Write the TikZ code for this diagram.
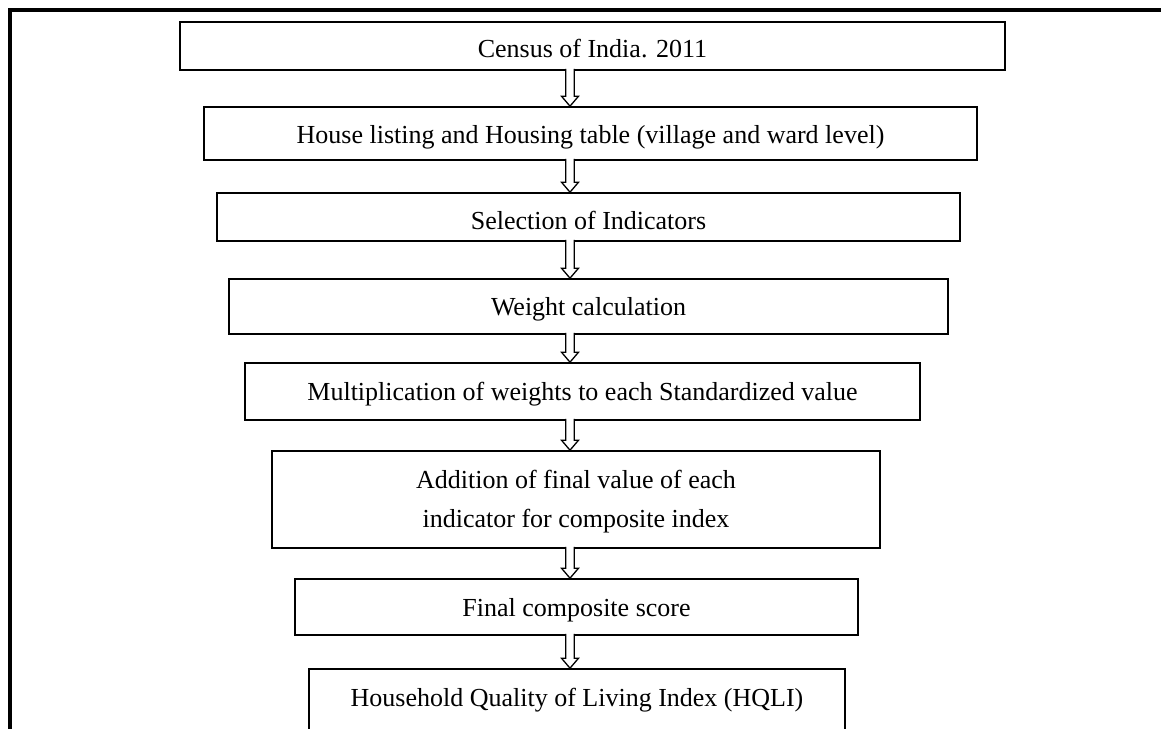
\documentclass[tikz,border=0pt]{standalone}
\usepackage{fontspec}
\setmainfont{Liberation Serif}
\usetikzlibrary{calc}
\tikzset{
  stagebox/.style={draw=black, line width=1.6pt, inner sep=0pt, fill=white},
  lbl/.style={inner sep=0pt, font=\fontsize{26}{39}\selectfont, anchor=base, align=center},
  blockarrow/.style={draw=black, line width=1.3pt, fill=white, line join=miter},
  frameline/.style={draw=black, line width=4pt}
}
\newcommand{\flowarrow}[2]{%
  \draw[blockarrow] ($(#1.south -| ax)+(-4.3,-2)$) -- ($(#2.north -| ax)+(-4.3,-10)$)
    -- ($(#2.north -| ax)+(-8.5,-10)$) -- (#2.north -| ax)
    -- ($(#2.north -| ax)+(8.5,-10)$) -- ($(#2.north -| ax)+(4.3,-10)$)
    -- ($(#1.south -| ax)+(4.3,-2)$);}
\begin{document}
\begin{tikzpicture}[x=1pt,y=-1pt]
\useasboundingbox (0,0) rectangle (1161,728);
\clip (0,0) rectangle (1161,728);
\fill[white] (0,0) rectangle (1161,728);
\coordinate (ax) at (570,0);
% outer frame (cropped)
\coordinate (fbl) at (10,760);
\coordinate (ftl) at (10,10);
\coordinate (ftr) at (1200,10);
\draw[frameline] (fbl) -- (ftl) -- (ftr);
% boxes
\node[stagebox, minimum width=825pt, minimum height=48pt] (b1) at (592.5,46) {};
\node[stagebox, minimum width=773pt, minimum height=53pt] (b2) at (590.5,133.5) {};
\node[stagebox, minimum width=743pt, minimum height=48pt] (b3) at (588.5,217) {};
\node[stagebox, minimum width=719pt, minimum height=55pt] (b4) at (588.5,306.5) {};
\node[stagebox, minimum width=675pt, minimum height=57pt] (b5) at (582.5,391.5) {};
\node[stagebox, minimum width=608pt, minimum height=97pt] (b6) at (576,499.5) {};
\node[stagebox, minimum width=563pt, minimum height=56pt] (b7) at (576.5,607) {};
\node[stagebox, minimum width=536pt, minimum height=100pt] (b8) at (577,719) {};
% texts
\node[lbl] (t1) at ($(b1.north)+(0,36)$) {Census of India. 2011};
\node[lbl] (t2) at ($(b2.north)+(0,37)$) {House listing and Housing table (village and ward level)};
\node[lbl] (t3) at ($(b3.north)+(0,37)$) {Selection of Indicators};
\node[lbl] (t4) at ($(b4.north)+(0,37.5)$) {Weight calculation};
\node[lbl] (t5) at ($(b5.north)+(0,38.5)$) {Multiplication of weights to each Standardized value};
\node[lbl] (t6) at ($(b6.north)+(0,77)$) {Addition of final value of each\\indicator for composite index};
\node[lbl] (t7) at ($(b7.north)+(0,38)$) {Final composite score};
\node[lbl] (t8) at ($(b8.north)+(0,38)$) {Household Quality of Living Index (HQLI)};
% arrows
\flowarrow{b1}{b2}
\flowarrow{b2}{b3}
\flowarrow{b3}{b4}
\flowarrow{b4}{b5}
\flowarrow{b5}{b6}
\flowarrow{b6}{b7}
\flowarrow{b7}{b8}
\end{tikzpicture}
\end{document}
